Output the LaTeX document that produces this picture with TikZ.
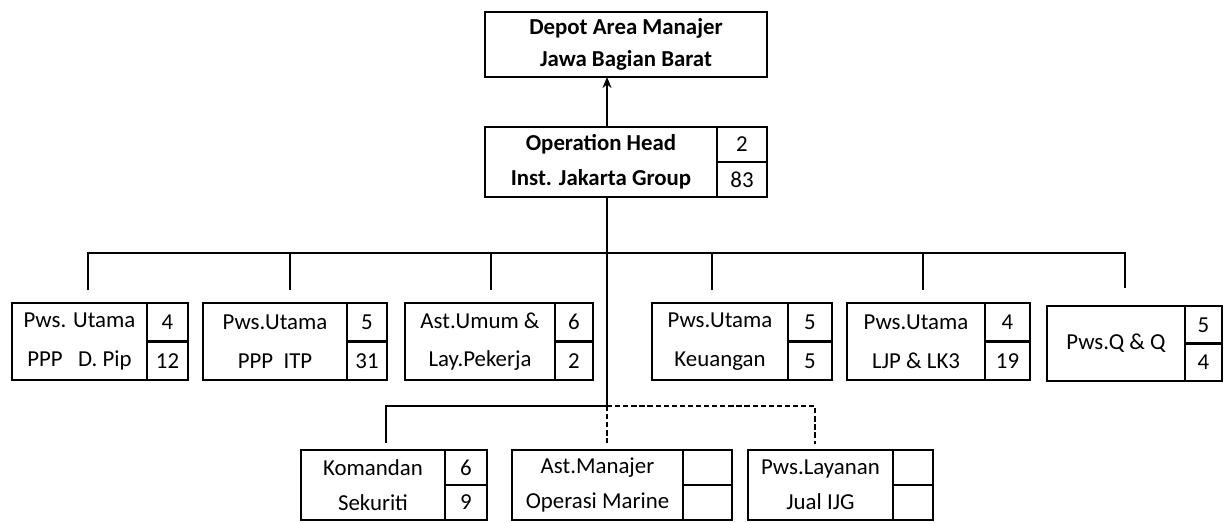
\documentclass[tikz,border=0pt]{standalone}
\usepackage{fontspec}
\setmainfont{Carlito}
\usetikzlibrary{arrows.meta}
\tikzset{
  unit/.style={draw, line width=1.6pt, align=center, inner sep=0pt, outer sep=0pt,
    font=\fontsize{13}{#1}\selectfont},
  unit/.default=22,
  cell/.style={draw, line width=1.6pt, inner sep=0pt, outer sep=0pt, anchor=north west,
    font=\fontsize{13}{15}\selectfont},
  link/.style={line width=1.6pt},
  plan/.style={line width=1.6pt, dash pattern=on 3pt off 1.6pt}
}

\begin{document}
\begin{tikzpicture}
\useasboundingbox (0,0) rectangle (24.58,-10.44);
% top
\node[unit, minimum width=5.64cm, minimum height=1.3cm, font=\fontsize{13}{18}\selectfont\bfseries] (dam) at (12.52,-0.89) {Depot Area Manajer\\Jawa Bagian Barat};
\node[unit, minimum width=4.64cm, minimum height=1.4cm, font=\fontsize{13}{20}\selectfont\bfseries] (ophead) at (12.02,-3.24) {Operation Head\\Inst. Jakarta Group};
\node[cell, minimum width=1.0cm, minimum height=0.7cm] (ophead-a) at (ophead.north east) {2};
\node[cell, minimum width=1.0cm, minimum height=0.7cm] (ophead-b) at (ophead-a.south west) {83};
% second row
\node[unit, minimum width=2.70cm, minimum height=1.54cm] (pdp) at (1.59,-6.83) {Pws. Utama\\PPP~~~D. Pip};
\node[cell, minimum width=0.82cm, minimum height=0.77cm] (pdp-a) at (pdp.north east) {4};
\node[cell, minimum width=0.82cm, minimum height=0.77cm] (pdp-b) at (pdp-a.south west) {12};
\node[unit, minimum width=2.88cm, minimum height=1.54cm] (itp) at (5.50,-6.83) {Pws.Utama\\PPP~~ITP};
\node[cell, minimum width=0.80cm, minimum height=0.77cm] (itp-a) at (itp.north east) {5};
\node[cell, minimum width=0.80cm, minimum height=0.77cm] (itp-b) at (itp-a.south west) {31};
\node[unit, minimum width=3.00cm, minimum height=1.54cm] (umum) at (9.60,-6.83) {Ast.Umum \&\\Lay.Pekerja};
\node[cell, minimum width=0.76cm, minimum height=0.77cm] (umum-a) at (umum.north east) {6};
\node[cell, minimum width=0.76cm, minimum height=0.77cm] (umum-b) at (umum-a.south west) {2};
\node[unit, minimum width=2.72cm, minimum height=1.54cm] (keu) at (14.40,-6.83) {Pws.Utama\\Keuangan};
\node[cell, minimum width=0.88cm, minimum height=0.77cm] (keu-a) at (keu.north east) {5};
\node[cell, minimum width=0.88cm, minimum height=0.77cm] (keu-b) at (keu-a.south west) {5};
\node[unit, minimum width=2.76cm, minimum height=1.54cm] (ljp) at (18.32,-6.83) {Pws.Utama\\LJP \& LK3};
\node[cell, minimum width=0.90cm, minimum height=0.77cm] (ljp-a) at (ljp.north east) {4};
\node[cell, minimum width=0.90cm, minimum height=0.77cm] (ljp-b) at (ljp-a.south west) {19};
\node[unit, minimum width=2.76cm, minimum height=1.50cm] (qq) at (22.32,-6.87) {Pws.Q \& Q};
\node[cell, minimum width=0.74cm, minimum height=0.75cm] (qq-a) at (qq.north east) {5};
\node[cell, minimum width=0.74cm, minimum height=0.75cm] (qq-b) at (qq-a.south west) {4};
% third row
\node[unit=20, minimum width=2.88cm, minimum height=1.4cm] (kom) at (7.46,-9.70) {Komandan\\Sekuriti};
\node[cell, minimum width=0.84cm, minimum height=0.7cm] (kom-a) at (kom.north east) {6};
\node[cell, minimum width=0.84cm, minimum height=0.7cm] (kom-b) at (kom-a.south west) {9};
\node[unit=20, minimum width=3.42cm, minimum height=1.4cm] (amo) at (11.95,-9.70) {Ast.Manajer\\Operasi Marine};
\node[cell, minimum width=0.98cm, minimum height=0.7cm] (amo-a) at (amo.north east) {};
\node[cell, minimum width=0.98cm, minimum height=0.7cm] (amo-b) at (amo-a.south west) {};
\node[unit=20, minimum width=2.90cm, minimum height=1.4cm] (pwl) at (16.41,-9.70) {Pws.Layanan\\Jual IJG};
\node[cell, minimum width=0.80cm, minimum height=0.7cm] (pwl-a) at (pwl.north east) {};
\node[cell, minimum width=0.80cm, minimum height=0.7cm] (pwl-b) at (pwl-a.south west) {};
% junctions
\coordinate (stem) at ([xshift=0.12cm]ophead.south);
\coordinate (bus) at ([yshift=-1.12cm]stem);
\coordinate (fork) at ([yshift=-4.18cm]stem);
\coordinate (t1) at ([xshift=0.17cm,yshift=0.26cm]pdp.north);
\coordinate (t2) at ([xshift=0.30cm,yshift=0.26cm]itp.north);
\coordinate (t3) at ([xshift=0.22cm,yshift=0.26cm]umum.north);
\coordinate (t4) at ([xshift=-0.16cm,yshift=0.26cm]keu.north);
\coordinate (t5) at ([xshift=0.14cm,yshift=0.26cm]ljp.north);
\coordinate (t6) at ([xshift=0.18cm,yshift=0.36cm]qq.north);
\coordinate (s1) at ([xshift=0.26cm,yshift=0.14cm]kom.north);
\coordinate (s2) at ([yshift=0.14cm]amo.north);
\coordinate (s3) at ([xshift=-0.11cm,yshift=0.12cm]pwl.north);
% connectors
\draw[link, -{Stealth[length=2.2mm,width=1.8mm]}] (stem |- ophead.north) -- (stem |- dam.south);
\draw[link] (t1) -- (t1 |- bus) -- (t6 |- bus) -- (t6);
\foreach \t in {t2,t3,t4,t5}
  \draw[link] (\t) -- (\t |- bus);
\draw[link] (stem) -- (fork);
\draw[link] (fork) -| (s1);
\draw[plan] (fork) -- (fork |- s2);
\draw[plan] (fork) -| (s3);
\end{tikzpicture}
\end{document}
